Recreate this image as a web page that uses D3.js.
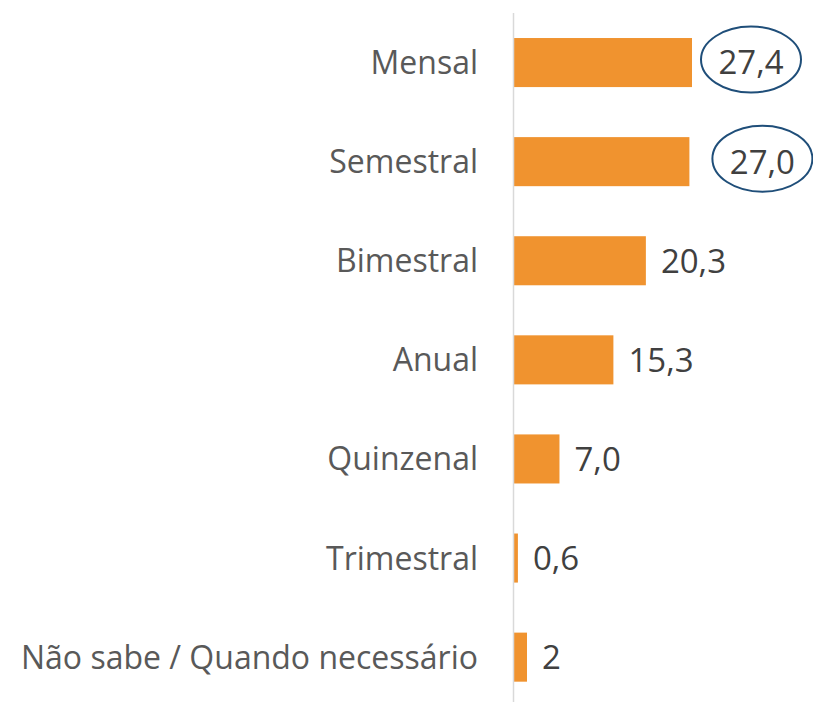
<!DOCTYPE html>
<html>
<head>
<meta charset="utf-8">
<script src="https://cdn.jsdelivr.net/npm/d3@7"></script>
<style>
  html, body { margin: 0; padding: 0; background: #ffffff; }
  svg { display: block; }
</style>
</head>
<body>
<svg id="chart" width="813" height="702"></svg>
<script>
// ---- data ----
const categories = ["Mensal", "Semestral", "Bimestral", "Anual", "Quinzenal", "Trimestral", "Não sabe / Quando necessário"];
const values = [27.4, 27.0, 20.3, 15.3, 7.0, 0.6, 2];
const valueLabels = ["27,4", "27,0", "20,3", "15,3", "7,0", "0,6", "2"];
const highlighted = ["Mensal", "Semestral"];

// ---- layout / style ----
const W = 813, H = 702;
const x0 = 514;
const fontFamily = "'Open Sans', 'Noto Sans', sans-serif";
const labelSize = 32, valueSize = 33;
const barColor = "#F0932F";
const highlightShift = { "Mensal": 59, "Semestral": 73 }; // ellipse centre offset from bar end

const svg = d3.select("#chart");

const x = d3.scaleLinear().domain([0, 27.4]).range([x0, 692]);
const y = d3.scaleBand().domain(categories).range([13, 706.7]).paddingInner(0.505).paddingOuter(0.2525);

const data = categories.map((c, i) => ({ c, v: values[i], l: valueLabels[i] }));

// bars
svg.append("g").selectAll("rect").data(data).join("rect")
  .attr("x", x(0))
  .attr("y", d => y(d.c))
  .attr("width", d => x(d.v) - x(0))
  .attr("height", y.bandwidth())
  .attr("fill", barColor);

// axis (category labels)
const axis = d3.axisLeft(y).tickSize(0).tickPadding(36);
const gAxis = svg.append("g").attr("transform", `translate(${x0},0)`).call(axis);
gAxis.select(".domain").remove();
gAxis.selectAll("text")
  .attr("font-family", fontFamily)
  .attr("font-size", labelSize)
  .attr("fill", "#595959")
  .attr("dy", "0.36em");

// vertical axis line
svg.append("line")
  .attr("x1", x0 - 0.5).attr("x2", x0 - 0.5)
  .attr("y1", 13).attr("y2", H)
  .attr("stroke", "#d9d9d9").attr("stroke-width", 1.5);

// value labels
const cy = d => y(d.c) + y.bandwidth() / 2;
svg.append("g").selectAll("text").data(data).join("text")
  .attr("x", d => highlighted.includes(d.c) ? x(d.v) + highlightShift[d.c] : x(d.v) + 15)
  .attr("y", d => cy(d))
  .attr("dy", "0.36em")
  .attr("text-anchor", d => highlighted.includes(d.c) ? "middle" : "start")
  .attr("font-family", fontFamily)
  .attr("font-size", valueSize)
  .attr("fill", "#404040")
  .text(d => d.l);

// highlight ellipses
svg.append("g").selectAll("ellipse").data(data.filter(d => highlighted.includes(d.c))).join("ellipse")
  .attr("cx", d => x(d.v) + highlightShift[d.c])
  .attr("cy", d => cy(d) - 3)
  .attr("rx", 50)
  .attr("ry", 33)
  .attr("fill", "none")
  .attr("stroke", "#1F4E79")
  .attr("stroke-width", 2);
</script>
</body>
</html>
